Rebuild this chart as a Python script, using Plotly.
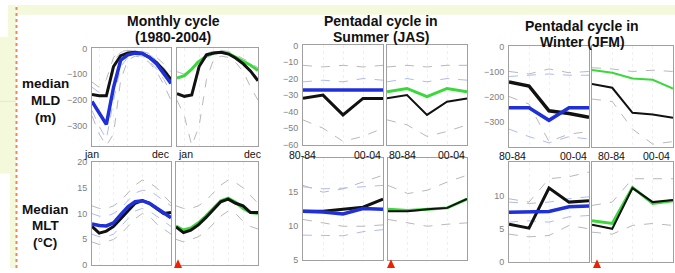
import plotly.graph_objects as go

W, H = 675, 273

# ---------------- data ----------------
months = list(range(1, 13))
pentads = [1, 2, 3, 4, 5]

# Monthly MLD (m)
mld_mon_obs_blue = [-205, -250, -293, -150, -45, -25, -18, -20, -35, -60, -95, -135]
mld_mon_obs_black = [-178, -183, -183, -70, -28, -18, -15, -20, -35, -55, -85, -120]
mld_mon_obs_gray_hi = [-130, -150, -120, -35, -12, -8, -8, -12, -20, -35, -60, -90]
mld_mon_obs_gray_lo = [-260, -330, -375, -330, -120, -45, -30, -35, -55, -90, -140, -200]
mld_mon_obs_lblue_hi = [-150, -170, -175, -50, -15, -10, -10, -15, -25, -45, -75, -110]
mld_mon_obs_lblue_lo = [-240, -300, -350, -200, -70, -35, -25, -30, -50, -80, -120, -170]
mld_mon_mod_green = [-115, -105, -80, -50, -30, -18, -15, -20, -35, -50, -65, -85]
mld_mon_mod_black = [-175, -185, -180, -70, -25, -18, -15, -22, -38, -60, -88, -125]
mld_mon_mod_gray_hi = [-90, -100, -75, -40, -20, -10, -8, -12, -25, -40, -55, -75]
mld_mon_mod_gray_lo = [-200, -260, -375, -300, -120, -40, -30, -35, -55, -90, -150, -200]

# Monthly MLT (degC)
mlt_mon_obs_blue = [8.0, 7.7, 7.6, 8.2, 9.8, 11.3, 12.3, 12.5, 12.0, 11.0, 10.0, 9.2]
mlt_mon_obs_black = [7.5, 6.2, 6.6, 7.5, 9.0, 10.6, 12.0, 12.5, 12.0, 11.0, 10.0, 10.2]
mlt_mon_obs_gray_hi = [11.5, 11.0, 11.0, 11.5, 12.5, 14.0, 15.5, 16.5, 16.0, 15.0, 13.5, 12.0]
mlt_mon_obs_gray_lo = [4.5, 4.0, 4.5, 5.0, 6.0, 7.5, 9.0, 10.0, 9.5, 8.0, 7.0, 6.0]
mlt_mon_obs_lblue_hi = [10.0, 9.5, 9.5, 10.0, 11.0, 12.5, 14.0, 14.5, 14.5, 13.5, 12.5, 11.5]
mlt_mon_obs_lblue_lo = [6.0, 5.5, 5.5, 6.0, 7.5, 9.0, 10.5, 11.0, 10.5, 9.5, 8.5, 7.5]
mlt_mon_mod_green = [7.6, 6.8, 7.2, 8.2, 9.5, 11.0, 12.5, 13.0, 12.2, 11.0, 10.2, 10.0]
mlt_mon_mod_black = [7.4, 6.3, 6.8, 7.8, 9.2, 10.8, 12.3, 12.8, 12.0, 11.5, 10.2, 10.2]
mlt_mon_mod_gray_hi = [11.5, 11.0, 11.0, 11.5, 12.5, 14.0, 15.5, 16.5, 16.0, 15.0, 13.5, 12.0]
mlt_mon_mod_gray_lo = [5.0, 4.5, 5.0, 5.5, 6.5, 8.0, 9.5, 10.5, 10.0, 8.5, 7.5, 7.0]

# Summer (JAS) pentadal MLD
mld_jas_obs_blue = [-27, -27, -27, -27, -27]
mld_jas_obs_black = [-32, -30, -42, -32, -32]
mld_jas_obs_gray_hi = [-12, -13, -12, -13, -12]
mld_jas_obs_lblue = [-22, -21, -22, -20, -21]
mld_jas_obs_gray_lo = [-45, -50, -58, -55, -50]
mld_jas_mod_green = [-28, -26, -31, -26, -28]
mld_jas_mod_black = [-32, -30, -42, -34, -32]
mld_jas_mod_gray_hi = [-13, -12, -13, -12, -12]
mld_jas_mod_lblue = [-22, -20, -22, -20, -21]
mld_jas_mod_gray_lo = [-45, -48, -55, -52, -48]

# Summer (JAS) pentadal MLT
mlt_jas_obs_blue = [12.2, 12.1, 11.8, 12.6, 12.5]
mlt_jas_obs_black = [12.2, 12.2, 12.5, 12.8, 14.0]
mlt_jas_obs_gray_hi = [16.0, 15.0, 15.5, 16.5, 17.5]
mlt_jas_obs_lblue_hi = [15.8, 15.5, 15.6, 15.8, 16.0]
mlt_jas_obs_gray_lo = [11.0, 10.5, 10.0, 10.0, 10.2]
mlt_jas_obs_lblue_lo = [8.7, 8.7, 8.6, 9.2, 9.5]
mlt_jas_mod_green = [12.5, 12.3, 12.5, 12.7, 14.0]
mlt_jas_mod_black = [12.2, 12.2, 12.5, 12.7, 14.0]
mlt_jas_mod_gray_hi = [16.0, 14.8, 15.3, 16.5, 17.5]
mlt_jas_mod_gray_lo = [11.0, 10.5, 10.0, 10.3, 10.5]

# Winter (JFM) pentadal MLD
mld_jfm_obs_blue = [-245, -245, -295, -245, -245]
mld_jfm_obs_black = [-142, -158, -257, -268, -283]
mld_jfm_obs_gray_hi = [-100, -110, -90, -105, -100]
mld_jfm_obs_lblue_hi = [-120, -115, -110, -115, -115]
mld_jfm_obs_gray_lo = [-200, -230, -380, -350, -340]
mld_jfm_obs_lblue_lo = [-330, -360, -385, -360, -370]
mld_jfm_mod_green = [-94, -105, -128, -133, -168]
mld_jfm_mod_black = [-150, -165, -265, -272, -285]
mld_jfm_mod_gray_hi = [-85, -90, -100, -95, -100]
mld_jfm_mod_gray_lo = [-210, -220, -330, -390, -380]

# Winter (JFM) pentadal MLT
mlt_jfm_obs_blue = [7.5, 7.6, 7.6, 8.3, 8.4]
mlt_jfm_obs_black = [5.7, 5.1, 11.1, 9.0, 9.2]
mlt_jfm_obs_gray_hi = [9.5, 9.0, 12.5, 12.8, 13.5]
mlt_jfm_obs_gray_lo = [4.2, 3.8, 4.0, 5.5, 5.0]
mlt_jfm_obs_lblue_hi = [9.0, 8.8, 9.0, 9.5, 9.8]
mlt_jfm_obs_lblue_lo = [6.0, 6.2, 6.0, 6.8, 7.0]
mlt_jfm_mod_green = [6.2, 5.8, 11.2, 8.8, 9.2]
mlt_jfm_mod_black = [5.6, 5.0, 11.1, 9.0, 9.3]
mlt_jfm_mod_gray_hi = [8.5, 9.0, 12.5, 12.5, 12.5]
mlt_jfm_mod_gray_lo = [4.5, 4.2, 5.5, 5.8, 5.5]

title_lines = [["Monthly cycle", "(1980-2004)"],
               ["Pentadal cycle in", "Summer (JAS)"],
               ["Pentadal cycle in", "Winter (JFM)"]]
row_label_lines = [["median", "MLD", "(m)"], ["Median", "MLT", "(°C)"]]
month_ticks = ["jan", "dec"]
pentad_ticks = ["80-84", "00-04"]
yticks_mld_mon = [0, -100, -200, -300]
yticks_mld_jas = [0, -10, -20, -30, -40, -50, -60]
yticks_mld_jfm = [0, -100, -200, -300]
yticks_mlt_mon = [0, 5, 10, 15, 20]
yticks_mlt_jas = [5, 10, 15]
yticks_mlt_jfm = [0, 5, 10]

# ---------------- styles ----------------
BLUE = dict(color="#2030d8", width=3.5)
BLACK = dict(color="#111111", width=3)
BLACK_THIN = dict(color="#111111", width=2)
GREEN = dict(color="#3ad83a", width=3)
GRAY_D = dict(color="#b8b8b8", width=1, dash="dash")
LBLUE_D = dict(color="#aebbee", width=1, dash="dash")

fig = go.Figure()

# panel geometry in pixels: (x0, x1, ytop, ybot, yrange, xrange, tickvals)
panels = {
    1: (92, 171, 45, 146, [-375, 0], [1, 12], yticks_mld_mon),
    2: (177, 258, 45, 146, [-375, 0], [1, 12], None),
    3: (303, 383, 42, 145, [-60, 0], [1, 5], yticks_mld_jas),
    4: (387, 467, 42, 145, [-60, 0], [1, 5], None),
    5: (509, 589, 43, 147, [-400, 0], [1, 5], yticks_mld_jfm),
    6: (592, 673, 43, 147, [-400, 0], [1, 5], None),
    7: (92, 171, 163, 270, [0, 20], [1, 12], yticks_mlt_mon),
    8: (176, 258, 163, 270, [0, 20], [1, 12], None),
    9: (303, 383, 159, 265, [5, 20], [1, 5], yticks_mlt_jas),
    10: (388, 467, 159, 265, [5, 20], [1, 5], None),
    11: (509, 589, 163, 267, [0, 15], [1, 5], yticks_mlt_jfm),
    12: (592, 673, 163, 267, [0, 15], [1, 5], None),
}

series = {
    1: (months, [(mld_mon_obs_gray_hi, GRAY_D), (mld_mon_obs_gray_lo, GRAY_D),
                 (mld_mon_obs_lblue_hi, LBLUE_D), (mld_mon_obs_lblue_lo, LBLUE_D),
                 (mld_mon_obs_black, BLACK), (mld_mon_obs_blue, BLUE)]),
    2: (months, [(mld_mon_mod_gray_hi, GRAY_D), (mld_mon_mod_gray_lo, GRAY_D),
                 (mld_mon_mod_green, GREEN), (mld_mon_mod_black, BLACK)]),
    3: (pentads, [(mld_jas_obs_gray_hi, GRAY_D), (mld_jas_obs_lblue, LBLUE_D),
                  (mld_jas_obs_gray_lo, GRAY_D), (mld_jas_obs_blue, BLUE),
                  (mld_jas_obs_black, BLACK)]),
    4: (pentads, [(mld_jas_mod_gray_hi, GRAY_D), (mld_jas_mod_lblue, LBLUE_D),
                  (mld_jas_mod_gray_lo, GRAY_D), (mld_jas_mod_green, GREEN),
                  (mld_jas_mod_black, BLACK_THIN)]),
    5: (pentads, [(mld_jfm_obs_gray_hi, GRAY_D), (mld_jfm_obs_lblue_hi, LBLUE_D),
                  (mld_jfm_obs_gray_lo, GRAY_D), (mld_jfm_obs_lblue_lo, LBLUE_D),
                  (mld_jfm_obs_black, dict(color="#111111", width=3.5)), (mld_jfm_obs_blue, BLUE)]),
    6: (pentads, [(mld_jfm_mod_gray_hi, GRAY_D), (mld_jfm_mod_gray_lo, GRAY_D),
                  (mld_jfm_mod_green, dict(color="#3ad83a", width=2)),
                  (mld_jfm_mod_black, BLACK_THIN)]),
    7: (months, [(mlt_mon_obs_gray_hi, GRAY_D), (mlt_mon_obs_gray_lo, GRAY_D),
                 (mlt_mon_obs_lblue_hi, LBLUE_D), (mlt_mon_obs_lblue_lo, LBLUE_D),
                 (mlt_mon_obs_black, BLACK), (mlt_mon_obs_blue, BLUE)]),
    8: (months, [(mlt_mon_mod_gray_hi, GRAY_D), (mlt_mon_mod_gray_lo, GRAY_D),
                 (mlt_mon_mod_green, GREEN), (mlt_mon_mod_black, BLACK)]),
    9: (pentads, [(mlt_jas_obs_gray_hi, GRAY_D), (mlt_jas_obs_lblue_hi, LBLUE_D),
                  (mlt_jas_obs_gray_lo, GRAY_D), (mlt_jas_obs_lblue_lo, LBLUE_D),
                  (mlt_jas_obs_black, BLACK), (mlt_jas_obs_blue, BLUE)]),
    10: (pentads, [(mlt_jas_mod_gray_hi, GRAY_D), (mlt_jas_mod_gray_lo, GRAY_D),
                   (mlt_jas_mod_green, GREEN), (mlt_jas_mod_black, BLACK_THIN)]),
    11: (pentads, [(mlt_jfm_obs_gray_hi, GRAY_D), (mlt_jfm_obs_gray_lo, GRAY_D),
                   (mlt_jfm_obs_lblue_hi, LBLUE_D), (mlt_jfm_obs_lblue_lo, LBLUE_D),
                   (mlt_jfm_obs_black, BLACK), (mlt_jfm_obs_blue, BLUE)]),
    12: (pentads, [(mlt_jfm_mod_gray_hi, GRAY_D), (mlt_jfm_mod_gray_lo, GRAY_D),
                   (mlt_jfm_mod_green, GREEN), (mlt_jfm_mod_black, BLACK_THIN)]),
}

layout_axes = {}
for n, (x0, x1, yt, yb, yr, xr, yt_vals) in panels.items():
    sfx = "" if n == 1 else str(n)
    layout_axes["xaxis" + sfx] = dict(
        domain=[x0 / W, x1 / W], anchor="y" + sfx, range=xr,
        showline=True, mirror=True, linecolor="#a0a0a0", linewidth=1,
        showgrid=True, gridcolor="#f0f0f0", gridwidth=1, griddash="dot",
        showticklabels=False, ticks="", zeroline=False, fixedrange=True,
        dtick=1 if xr[1] == 5 else 2,
    )
    layout_axes["yaxis" + sfx] = dict(
        domain=[1 - yb / H, 1 - yt / H], anchor="x" + sfx, range=yr,
        showline=True, mirror=True, linecolor="#a0a0a0", linewidth=1,
        showgrid=False, zeroline=False, ticks="", fixedrange=True,
        showticklabels=yt_vals is not None,
        tickvals=yt_vals if yt_vals is not None else None,
        tickfont=dict(size=9, color="#808080", family="Liberation Sans, Arial"),
        ticklabelstandoff=2,
    )
    xs, lines = series[n]
    for ys, st in lines:
        fig.add_trace(go.Scatter(x=xs, y=ys, mode="lines", line=st,
                                 xaxis="x" + sfx, yaxis="y" + sfx,
                                 showlegend=False, hoverinfo="skip"))

fig.update_layout(**layout_axes)

ann = []
BOLD = dict(family="Liberation Sans, Arial", size=14, color="#111111")
# column titles (one annotation per line)
for lines, cx, cy0 in [(title_lines[0], 173, 17), (title_lines[1], 381, 17), (title_lines[2], 582, 22)]:
    for i, txt in enumerate(lines):
        ann.append(dict(text="<b>" + txt + "</b>", x=cx / W, y=1 - (cy0 + 16 * i) / H,
                        xref="paper", yref="paper", showarrow=False, font=BOLD,
                        xanchor="center", yanchor="middle"))
# row labels
ROWF = dict(family="Liberation Sans, Arial", size=13.5, color="#111111")
for lines, ys in [(row_label_lines[0], [82, 99, 117]), (row_label_lines[1], [212, 229, 247])]:
    for txt, yy in zip(lines, ys):
        ann.append(dict(text="<b>" + txt + "</b>", x=45 / W, y=1 - yy / H, xref="paper", yref="paper",
                        showarrow=False, font=ROWF, xanchor="center", yanchor="middle"))
# x tick labels between rows
XT = dict(family="Liberation Sans, Arial", size=10.5, color="#111111")
for (lx, rx, ly), labs in [((82, 171, 155), month_ticks), ((176, 263, 155), month_ticks),
                           ((287, 383, 156), pentad_ticks), ((387, 467, 156), pentad_ticks),
                           ((497, 589, 157), pentad_ticks), ((596, 672, 157), pentad_ticks)]:
    ann.append(dict(text=labs[0], x=lx / W, y=1 - ly / H, xref="paper", yref="paper",
                    showarrow=False, font=XT, xanchor="left", yanchor="middle"))
    ann.append(dict(text=labs[1], x=rx / W, y=1 - ly / H, xref="paper", yref="paper",
                    showarrow=False, font=XT, xanchor="right", yanchor="middle"))

shapes = []
YEL = "#f5f9dc"
def rect(x0, y0, x1, y1, color, layer="below"):
    return dict(type="rect", xref="paper", yref="paper", x0=x0 / W, x1=x1 / W,
                y0=1 - y1 / H, y1=1 - y0 / H, fillcolor=color, line=dict(width=0), layer=layer)
shapes.append(rect(17, 0, W, 10, YEL))
shapes.append(rect(0, 0, 16, H, YEL))
shapes.append(rect(0, 0, 8, 33, "#ffffff"))
shapes.append(rect(0, 175, 10, H, "#ffffff"))
shapes.append(dict(type="line", xref="paper", yref="paper", x0=0, x1=16 / W,
                   y0=1 - 100 / H, y1=1 - 100 / H, line=dict(color="#e6e9c8", width=1), layer="below"))
shapes.append(dict(type="line", xref="paper", yref="paper", x0=16.5 / W, x1=16.5 / W,
                   y0=0, y1=1, line=dict(color="#f08a4a", width=2, dash="dot"), layer="below"))
# red markers
for tx in [178, 391, 597]:
    shapes.append(dict(type="path", xref="paper", yref="paper",
                       path=f"M {(tx - 4) / W} {0} L {(tx + 4) / W} {0} L {tx / W} {9 / H} Z",
                       fillcolor="#ee2200", line=dict(width=0), layer="above"))

fig.update_layout(
    width=W, height=H, margin=dict(l=0, r=0, t=0, b=0),
    paper_bgcolor="white", plot_bgcolor="white",
    annotations=ann, shapes=shapes, showlegend=False,
    font=dict(family="Liberation Sans, Arial"),
)

fig.write_html("out.html", config={"displayModeBar": False},
               post_script="document.body.style.margin='0';document.body.style.overflow='hidden';")
